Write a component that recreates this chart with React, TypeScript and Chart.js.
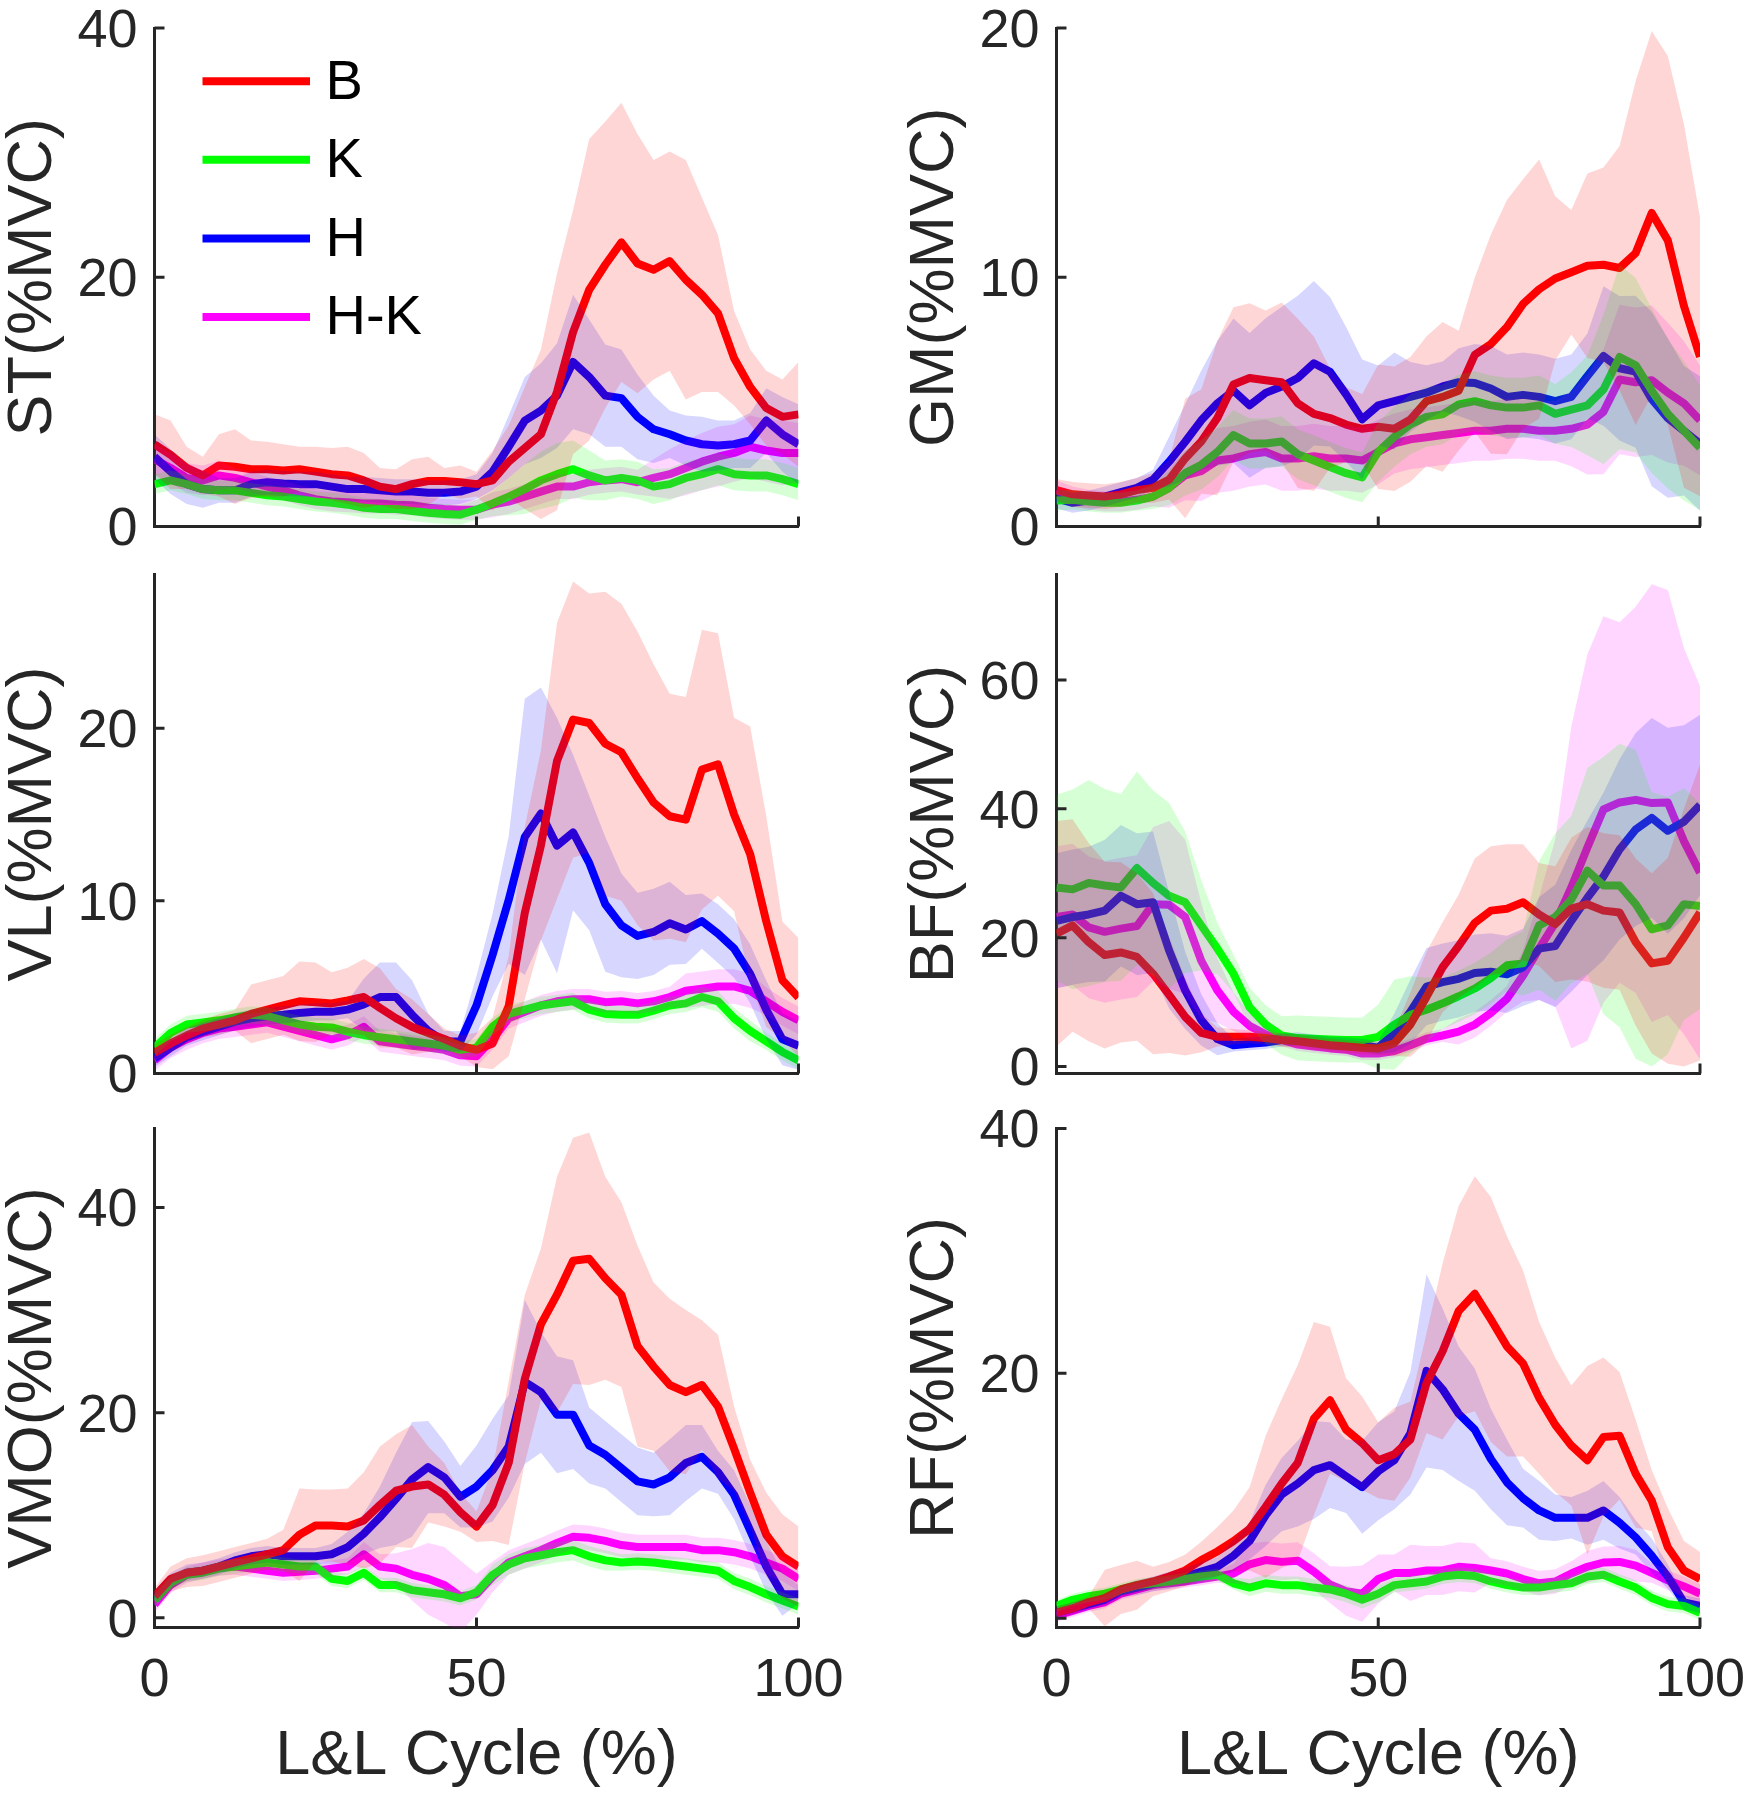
import React, { useEffect, useRef } from "react";
import { Chart, registerables } from "chart.js";

Chart.register(...registerables);

// ---------------- data ----------------
const X = [0,2.5,5,7.5,10,12.5,15,17.5,20,22.5,25,27.5,30,32.5,35,37.5,40,42.5,45,47.5,50,52.5,55,57.5,60,62.5,65,67.5,70,72.5,75,77.5,80,82.5,85,87.5,90,92.5,95,97.5,100];
const X_TICKS = [0, 50, 100];
const SERIES_LABELS = ["B", "K", "H", "H-K"];
const X_TITLE = "L&L Cycle (%)";

// ST
const ST_TICKS = [0, 20, 40];
const ST_B = [6.6,5.75,4.7,4.1,4.9,4.8,4.6,4.6,4.5,4.6,4.4,4.2,4.1,3.7,3.2,3.0,3.4,3.65,3.65,3.55,3.4,3.7,5.2,6.3,7.4,10.8,15.6,19.0,21.0,22.8,21.1,20.6,21.3,19.8,18.6,17.1,13.5,11.2,9.5,8.8,9.0];
const ST_K = [3.4,3.7,3.4,3.0,2.9,2.9,2.7,2.5,2.4,2.2,2.0,1.9,1.75,1.5,1.4,1.4,1.25,1.1,1.0,0.95,1.35,1.85,2.4,3.0,3.7,4.2,4.6,4.1,3.7,3.9,3.7,3.2,3.4,3.9,4.2,4.6,4.2,4.1,4.1,3.8,3.4];
const ST_H = [5.6,4.4,3.4,3.0,2.9,2.9,3.4,3.55,3.45,3.4,3.4,3.2,3.0,3.0,2.9,2.8,2.8,2.7,2.7,2.8,3.2,4.4,6.4,8.5,9.3,10.5,13.2,12.0,10.5,10.3,8.8,7.8,7.4,6.9,6.6,6.5,6.6,6.9,8.5,7.4,6.6];
const ST_HK = [5.4,4.7,3.9,3.7,4.1,3.9,3.55,3.2,2.9,2.5,2.2,2.0,1.95,1.85,1.85,1.75,1.7,1.5,1.4,1.35,1.35,1.75,2.0,2.4,2.8,3.2,3.2,3.55,3.7,3.8,3.55,3.9,4.2,4.7,5.2,5.6,5.9,6.4,6.1,5.9,5.9];
const ST_B_SD = [2.4,2.75,1.7,1.5,2.5,3.0,2.3,2.2,2.1,1.8,2.0,2.1,2.3,2.2,1.5,1.6,2.0,1.95,1.05,1.35,1.0,2.4,2.9,4.9,6.8,9.5,9.8,12.1,11.5,11.2,10.4,8.8,8.8,9.6,7.8,6.3,3.8,3.0,3.0,3.0,4.2];
const ST_K_SD = [0.8,0.8,0.8,0.8,0.8,0.8,0.8,0.8,0.8,0.8,0.8,0.8,0.8,0.8,0.8,0.8,0.8,0.8,0.8,0.8,0.8,1.0,1.5,2.0,2.3,2.5,2.3,2.0,1.6,1.5,1.5,1.4,1.3,1.3,1.3,1.3,1.3,1.3,1.3,1.3,1.3];
const ST_H_SD = [1.8,1.8,1.6,1.5,1.0,1.0,1.0,1.0,1.0,1.0,1.0,1.0,1.0,1.0,1.0,1.0,1.0,1.0,1.0,1.0,1.0,1.5,2.5,3.5,3.8,4.2,5.4,4.6,4.1,3.9,3.4,2.7,1.9,2.0,2.2,2.0,1.9,2.2,2.6,3.0,3.2];
const ST_HK_SD = [1.2,1.2,1.2,1.2,1.2,0.8,0.8,0.8,0.8,0.8,0.8,0.8,0.8,0.8,0.8,0.8,0.8,0.8,0.8,0.8,0.8,1.0,1.0,1.0,1.0,1.0,1.0,1.0,1.0,1.0,1.0,1.5,2.0,2.2,2.3,2.4,2.3,2.5,2.5,2.6,2.4];

// GM
const GM_TICKS = [0, 10, 20];
const GM_B = [1.46,1.29,1.24,1.2,1.29,1.46,1.55,1.88,2.73,3.41,4.35,5.7,5.96,5.87,5.79,4.94,4.52,4.35,4.09,3.92,4.0,3.92,4.3,5.03,5.2,5.45,6.89,7.32,8.0,8.93,9.52,9.95,10.2,10.46,10.5,10.37,10.97,12.58,11.48,8.85,6.81];
const GM_K = [1.04,1.07,1.0,0.95,0.95,1.04,1.2,1.55,2.14,2.48,2.99,3.67,3.33,3.33,3.41,2.9,2.65,2.39,2.14,1.97,3.0,3.6,4.1,4.4,4.5,4.9,5.03,4.86,4.77,4.77,4.86,4.52,4.69,4.86,5.5,6.8,6.47,5.45,4.52,3.84,3.16];
const GM_H = [1.12,0.95,1.04,1.2,1.38,1.55,1.88,2.6,3.4,4.26,4.94,5.45,4.86,5.36,5.62,5.96,6.55,6.21,5.3,4.3,4.86,5.03,5.2,5.37,5.62,5.79,5.76,5.54,5.2,5.28,5.2,5.03,5.2,6.04,6.84,6.35,6.21,5.11,4.35,3.84,3.33];
const GM_HK = [1.46,1.2,1.07,1.0,1.0,1.07,1.2,1.55,2.05,2.22,2.65,2.73,2.9,2.99,2.73,2.73,2.82,2.73,2.73,2.65,2.99,3.33,3.5,3.58,3.67,3.75,3.84,3.84,3.92,3.92,3.84,3.84,3.92,4.09,4.6,5.9,5.79,5.87,5.37,4.94,4.26];
const GM_B_SD = [0.45,0.5,0.5,0.5,0.5,0.5,0.6,0.8,2.4,2.1,3.1,3.1,3.0,2.8,3.2,3.4,3.1,2.0,1.5,1.4,2.5,2.5,2.5,2.6,3.0,2.4,3.1,4.4,5.1,5.0,5.2,3.3,2.5,3.7,3.9,4.9,6.9,7.3,7.4,7.3,5.6];
const GM_K_SD = [0.4,0.4,0.4,0.4,0.4,0.4,0.5,0.7,0.9,1.0,1.0,1.0,1.0,1.0,1.0,1.0,1.0,1.0,1.0,1.0,1.2,1.2,1.2,1.2,1.2,1.2,1.2,1.2,1.2,1.2,1.2,1.2,1.5,2.0,3.0,3.7,3.5,3.3,3.0,2.8,2.5];
const GM_H_SD = [0.4,0.4,0.4,0.4,0.4,0.4,0.4,1.0,1.5,2.0,2.5,2.9,2.9,3.0,3.2,3.3,3.3,3.0,2.7,2.4,1.6,1.95,1.4,1.1,1.0,1.36,1.56,1.7,1.7,1.7,1.7,1.7,1.7,1.7,2.8,2.9,3.05,3.5,3.2,2.6,2.7];
const GM_HK_SD = [0.4,0.4,0.4,0.4,0.4,0.4,0.4,0.8,1.0,1.2,1.3,1.3,1.3,1.3,1.3,1.3,1.3,1.3,1.3,1.3,1.3,1.2,1.2,1.2,1.2,1.2,1.2,1.2,1.2,1.2,1.2,1.2,1.5,2.0,2.5,3.0,3.0,3.0,2.8,2.5,2.2];

// VL
const VL_TICKS = [0, 10, 20];
const VL_B = [1.2,1.74,2.2,2.6,2.84,3.08,3.45,3.7,3.94,4.18,4.13,4.06,4.23,4.43,3.8,3.2,2.7,2.35,2.0,1.6,1.37,1.74,3.9,9.3,13.2,18.1,20.5,20.3,19.1,18.6,17.1,15.7,14.9,14.7,17.6,17.9,15.0,12.7,8.8,5.4,4.4];
const VL_K = [1.5,2.35,2.84,2.96,3.08,3.25,3.4,3.33,3.08,2.84,2.71,2.67,2.42,2.22,2.1,1.98,1.86,1.74,1.61,1.37,1.5,2.71,3.45,3.7,3.94,4.06,4.18,3.7,3.45,3.4,3.4,3.64,3.94,4.06,4.43,4.18,3.2,2.47,1.86,1.25,0.76];
const VL_H = [0.88,1.5,2.1,2.42,2.71,3.0,3.2,3.33,3.4,3.5,3.57,3.57,3.7,4.0,4.43,4.43,3.4,2.47,1.86,1.86,3.94,6.87,10.05,13.7,15.06,13.2,13.96,12.2,9.8,8.58,7.97,8.2,8.7,8.34,8.83,8.1,7.24,5.77,3.69,1.98,1.61];
const VL_HK = [0.76,1.5,1.98,2.35,2.6,2.71,2.84,2.96,2.71,2.47,2.22,1.98,2.22,2.71,1.86,1.74,1.61,1.5,1.37,1.05,1.0,1.98,3.2,3.57,3.94,4.18,4.3,4.3,4.13,4.18,4.06,4.18,4.43,4.79,4.91,5.04,5.04,4.79,4.18,3.57,3.08];
const VL_B_SD = [0.5,0.5,0.5,0.5,0.6,0.6,1.7,1.7,1.7,2.3,2.3,1.8,1.9,2.2,2.3,1.7,1.6,1.1,0.6,0.6,1.0,1.5,2.9,5.0,5.5,8.0,8.0,7.5,8.8,8.6,8.5,8.0,7.1,7.1,8.1,7.6,5.6,7.4,6.1,3.4,3.45];
const VL_K_SD = [0.5,0.5,0.5,0.5,0.5,0.5,0.5,0.5,0.5,0.5,0.5,0.5,0.5,0.5,0.5,0.5,0.5,0.5,0.5,0.5,0.5,0.5,0.5,0.5,0.5,0.5,0.5,0.5,0.5,0.5,0.5,0.5,0.5,0.5,0.6,0.6,0.6,0.6,0.5,0.5,0.5];
const VL_H_SD = [0.5,0.5,0.5,0.5,0.5,0.5,0.5,0.5,0.5,0.5,0.5,0.5,0.5,1.5,2.0,2.0,2.0,1.0,0.6,0.6,1.7,2.4,3.7,8.0,7.3,7.4,4.5,3.9,3.9,3.0,2.5,2.5,2.4,2.0,1.6,1.7,1.7,1.7,1.7,1.5,1.4];
const VL_HK_SD = [0.6,0.6,0.6,0.6,0.6,0.6,0.6,0.6,0.6,0.6,0.6,0.6,0.6,0.6,0.6,0.6,0.6,0.6,0.6,0.6,0.6,0.6,0.6,0.6,0.6,0.6,0.6,0.6,0.6,0.6,0.6,0.6,0.6,1.0,1.0,1.0,1.0,1.0,0.8,0.8,0.8];

// BF
const BF_TICKS = [0, 20, 40, 60];
const BF_B = [20.6,21.9,19.3,17.3,17.7,17.0,14.4,11.1,7.7,5.2,4.6,4.6,4.6,4.4,4.1,3.9,3.6,3.3,3.1,2.9,2.8,3.6,6.5,10.8,15.4,18.7,22.3,24.2,24.5,25.5,23.6,22.1,24.5,25.2,24.2,23.9,19.3,16.0,16.4,20.0,23.9];
const BF_K = [27.8,27.5,28.5,28.1,27.8,30.8,28.5,26.5,25.5,21.9,18.3,14.4,9.2,6.5,4.8,4.4,4.3,4.2,4.1,4.1,4.6,6.5,8.0,8.8,9.8,10.9,12.1,13.7,15.7,16.0,21.9,23.2,25.9,30.4,28.1,28.1,25.2,21.3,21.9,25.2,24.9];
const BF_H = [22.6,23.2,23.6,24.2,26.5,25.2,25.5,18.0,11.8,7.2,4.25,3.3,3.5,3.7,4.1,4.3,3.9,3.6,3.5,3.3,2.9,5.2,8.5,12.4,13.1,13.6,14.5,14.7,14.3,15.4,18.3,18.7,22.6,26.2,29.5,33.7,36.8,38.6,36.6,38.0,40.6];
const BF_HK = [23.2,23.6,21.6,20.9,21.4,21.8,25.2,25.1,23.2,16.4,11.8,8.5,6.3,5.0,4.1,3.4,3.1,2.8,2.6,2.0,2.0,2.4,3.3,4.3,4.8,5.4,6.5,8.3,10.5,14.1,18.3,22.3,27.8,34.0,39.9,41.0,41.4,40.9,41.0,35.0,30.1];
const BF_B_SD = [17.5,16.5,15.4,14.5,14.0,13.0,12.5,9.0,6.0,3.0,1.5,1.2,1.0,1.0,1.0,1.0,1.0,1.0,1.0,1.0,1.0,2.0,5.0,7.0,7.0,8.0,10.0,10.0,10.0,9.0,8.0,9.0,11.0,12.0,12.0,12.0,13.0,14.0,16.0,20.0,23.0];
const BF_K_SD = [14.4,15.5,16.0,15.0,14.5,15.0,14.4,14.4,11.0,7.0,4.0,3.0,3.0,3.0,3.0,3.5,3.5,3.5,3.5,3.5,5.0,7.0,6.0,5.0,4.0,4.0,4.0,4.0,4.0,5.0,10.0,13.0,13.0,16.0,20.0,22.0,24.0,21.3,20.0,18.0,16.0];
const BF_H_SD = [10.5,10.5,10.5,11.0,11.0,11.0,11.0,9.0,6.0,4.0,2.5,1.0,1.0,1.0,1.0,1.0,1.0,1.0,1.0,1.0,1.0,3.0,5.0,6.0,6.0,6.0,6.0,6.0,6.0,6.0,8.0,9.5,11.0,12.0,13.0,14.0,15.0,15.5,16.0,15.0,14.0];
const BF_HK_SD = [11.0,11.0,11.0,11.0,11.0,11.0,12.0,13.0,12.0,9.0,5.0,3.0,2.0,1.0,1.0,1.0,1.0,1.0,1.0,1.0,1.0,1.0,1.0,1.0,1.0,2.0,2.0,2.0,2.0,4.0,8.0,13.0,25.0,30.0,30.0,28.0,30.0,34.0,33.0,30.0,29.0];

// VMO
const VMO_TICKS = [0, 20, 40];
const VMO_B = [2.1,3.8,4.4,4.6,5.0,5.4,5.8,6.2,6.6,8.1,9.0,9.0,8.9,9.5,11.0,12.4,12.8,13.0,12.0,10.3,8.9,11.0,15.1,23.3,28.6,31.5,34.8,35.0,33.1,31.5,26.5,24.5,22.7,22.0,22.7,20.6,16.5,12.2,8.1,6.0,5.0];
const VMO_K = [1.7,3.4,4.2,4.4,4.8,5.0,5.2,5.4,5.2,5.0,5.0,3.8,3.6,4.4,3.2,3.2,2.7,2.5,2.3,1.9,2.5,4.2,5.2,5.8,6.1,6.4,6.6,6.0,5.6,5.4,5.5,5.4,5.2,5.0,4.8,4.6,3.6,3.0,2.3,1.7,1.1];
const VMO_H = [1.9,3.6,4.4,4.6,5.0,5.6,6.0,6.2,6.0,6.0,6.0,6.2,6.9,8.2,9.8,11.6,13.5,14.7,13.7,11.8,12.8,14.4,16.7,23.0,22.0,19.8,19.8,16.8,15.9,14.6,13.3,13.0,13.7,15.1,15.7,14.2,12.0,8.5,5.0,2.3,2.3];
const VMO_HK = [1.3,3.2,4.2,4.6,4.9,5.0,4.8,4.6,4.4,4.5,4.6,4.8,5.0,6.2,5.0,4.8,4.2,3.8,3.2,2.1,2.3,4.0,5.4,6.0,6.6,7.3,7.9,7.8,7.5,7.1,6.9,6.9,6.9,6.9,6.6,6.6,6.4,6.0,5.4,4.8,3.8];
const VMO_B_SD = [0.8,1.2,1.4,1.5,1.5,1.5,1.5,1.5,2.0,4.5,3.5,3.5,3.7,4.7,5.7,5.5,6.0,3.7,3.1,1.9,1.5,3.5,8.0,8.2,7.4,11.5,12.0,12.3,9.9,9.0,9.8,8.2,8.4,8.0,6.3,7.0,4.1,3.2,4.1,4.1,3.9];
const VMO_K_SD = [0.7,0.7,0.7,0.7,0.7,0.7,0.7,0.7,0.7,0.7,0.7,0.7,0.7,0.7,0.7,0.7,0.7,0.7,0.7,0.7,0.7,1.0,1.0,1.0,1.0,1.0,1.0,1.0,1.0,0.8,0.8,0.8,0.8,0.8,0.8,0.8,0.8,0.8,0.8,0.8,0.8];
const VMO_H_SD = [0.8,0.8,0.8,0.8,0.8,0.8,0.8,0.8,0.8,0.8,0.8,1.0,1.5,2.0,3.0,4.5,5.6,4.5,3.5,3.0,4.0,5.0,5.0,8.0,5.9,5.7,5.3,3.7,3.3,3.3,3.3,3.1,3.7,3.7,3.1,2.1,2.4,2.5,2.5,2.1,0.9];
const VMO_HK_SD = [0.8,0.8,0.8,0.8,0.8,0.8,0.8,0.8,0.8,0.8,0.8,0.8,0.8,1.2,1.2,1.5,2.5,3.5,3.7,3.5,2.0,1.5,1.2,1.2,1.2,1.2,1.2,1.2,1.2,1.2,1.2,1.2,1.2,1.2,1.2,1.2,1.2,1.2,1.2,1.2,1.2];

// RF
const RF_TICKS = [0, 20, 40];
const RF_B = [0.45,0.8,1.3,1.65,2.35,2.7,3.0,3.4,3.9,4.75,5.45,6.3,7.3,9.1,11.0,12.7,16.3,17.8,15.4,14.3,12.9,13.4,14.6,19.2,21.8,25.1,26.5,24.4,22.2,20.8,18.0,15.8,14.1,12.9,14.8,14.9,11.8,9.6,5.8,3.9,3.2];
const RF_K = [1.0,1.5,1.8,2.0,2.35,2.7,2.85,3.0,3.2,3.4,3.55,2.85,2.5,2.85,2.7,2.7,2.5,2.35,2.0,1.5,2.0,2.7,2.85,3.0,3.4,3.55,3.45,3.0,2.7,2.5,2.5,2.7,2.85,3.4,3.55,3.0,2.5,1.65,1.15,1.0,0.45];
const RF_H = [0.45,0.8,1.15,1.5,2.2,2.5,2.8,3.1,3.4,3.8,4.2,5.1,6.3,8.4,10.1,11.0,12.1,12.5,11.6,10.7,12.0,12.9,15.1,20.2,18.7,16.7,15.4,13.0,11.1,9.8,8.8,8.2,8.2,8.2,8.8,7.8,6.6,5.1,3.4,1.3,1.0];
const RF_HK = [0.2,0.6,1.0,1.3,2.0,2.35,2.7,2.85,3.0,3.2,3.4,3.65,4.4,4.75,4.6,4.7,3.8,2.75,2.2,2.0,3.2,3.7,3.7,3.9,3.9,4.2,4.1,3.9,3.65,3.2,2.85,3.0,3.65,4.2,4.55,4.6,4.3,3.7,3.1,2.6,2.0];
const RF_B_SD = [0.5,0.5,0.5,2.3,2.0,2.0,1.2,1.2,1.3,1.5,2.0,2.5,3.4,5.8,6.9,8.0,7.9,6.0,4.2,3.8,3.1,3.8,3.1,4.1,7.2,8.6,9.6,10.0,9.0,7.6,6.2,5.5,4.9,7.7,6.5,5.2,4.4,2.5,3.2,2.4,2.2];
const RF_K_SD = [0.5,0.5,0.5,0.5,0.5,0.5,0.5,0.5,0.5,0.5,0.5,0.5,0.7,0.7,0.7,0.7,0.7,0.7,0.7,0.7,0.7,0.6,0.6,0.6,0.6,0.6,0.6,0.6,0.6,0.6,0.6,0.6,0.6,0.6,0.6,0.6,0.6,0.6,0.6,0.6,0.6];
const RF_H_SD = [0.5,0.5,0.5,0.5,0.5,0.6,0.6,0.7,0.7,0.8,0.8,1.3,1.5,2.5,3.0,3.5,4.0,3.5,3.0,3.8,4.0,4.0,5.0,7.9,6.6,5.5,5.0,4.1,3.5,2.4,2.4,1.9,1.7,2.2,2.4,2.1,1.4,1.4,1.0,0.6,0.6];
const RF_HK_SD = [0.5,0.5,0.5,0.5,0.5,0.5,0.5,0.5,0.5,0.5,0.5,0.8,1.7,1.5,1.5,1.5,1.5,1.5,2.0,2.3,2.0,1.5,2.3,2.0,2.0,2.0,2.0,1.0,1.0,1.0,1.0,1.0,1.0,1.3,1.3,1.3,1.3,0.8,0.8,0.8,0.8];

// ---------------- style ----------------
const FONT = '"Liberation Sans", Arial, Helvetica, sans-serif';
const AXIS = "#262626";
const LINE_COLORS = ["#ff0000", "#00ff00", "#0000ff", "#ff00ff"];
const BAND_COLORS = ["rgba(255,0,0,0.16)", "rgba(0,255,0,0.16)", "rgba(0,0,255,0.16)", "rgba(255,0,255,0.16)"];

Chart.defaults.font.family = FONT;

type Panel = {
  yLabel: string;
  means: number[][];
  sds: number[][];
  yMin: number;
  yMax: number;
  yTicks: number[];
  col: number;
  row: number;
  legend: boolean;
};

const PANELS: Panel[] = [
  { yLabel: "ST(%MVC)", means: [ST_B, ST_K, ST_H, ST_HK], sds: [ST_B_SD, ST_K_SD, ST_H_SD, ST_HK_SD], yMin: 0, yMax: 40, yTicks: ST_TICKS, col: 0, row: 0, legend: true },
  { yLabel: "GM(%MVC)", means: [GM_B, GM_K, GM_H, GM_HK], sds: [GM_B_SD, GM_K_SD, GM_H_SD, GM_HK_SD], yMin: 0, yMax: 20, yTicks: GM_TICKS, col: 1, row: 0, legend: false },
  { yLabel: "VL(%MVC)", means: [VL_B, VL_K, VL_H, VL_HK], sds: [VL_B_SD, VL_K_SD, VL_H_SD, VL_HK_SD], yMin: 0, yMax: 28.9, yTicks: VL_TICKS, col: 0, row: 1, legend: false },
  { yLabel: "BF(%MVC)", means: [BF_B, BF_K, BF_H, BF_HK], sds: [BF_B_SD, BF_K_SD, BF_H_SD, BF_HK_SD], yMin: -1.1, yMax: 76.4, yTicks: BF_TICKS, col: 1, row: 1, legend: false },
  { yLabel: "VMO(%MVC)", means: [VMO_B, VMO_K, VMO_H, VMO_HK], sds: [VMO_B_SD, VMO_K_SD, VMO_H_SD, VMO_HK_SD], yMin: -0.94, yMax: 47.7, yTicks: VMO_TICKS, col: 0, row: 2, legend: false },
  { yLabel: "RF(%MVC)", means: [RF_B, RF_K, RF_H, RF_HK], sds: [RF_B_SD, RF_K_SD, RF_H_SD, RF_HK_SD], yMin: -0.76, yMax: 40, yTicks: RF_TICKS, col: 1, row: 2, legend: false },
];

// layout geometry (page pixels)
const COLS = [
  { left: 2, width: 875, padRight: 78.5 },
  { left: 904, width: 850, padRight: 54 },
];
const ROWS = [
  { top: -32, height: 600, padTop: 60, padBottom: 0, xh: 41.5, showX: false },
  { top: 514, height: 600, padTop: 60.5, padBottom: 0, xh: 40.5, showX: false },
  { top: 1068, height: 732, padTop: 60.5, padBottom: 11.5, xh: 161, showX: true },
];
const Y_AXIS_W = 152.5;
const TICK_FONT = 54;
const TITLE_FONT = 63;

function buildDatasets(means: number[][], sds: number[][]) {
  const ds: any[] = [];
  means.forEach((m, i) => {
    ds.push({
      label: SERIES_LABELS[i],
      data: X.map((x, j) => ({ x, y: m[j] })),
      borderColor: LINE_COLORS[i],
      backgroundColor: LINE_COLORS[i],
      borderWidth: 8,
      borderJoinStyle: "round",
      pointRadius: 0,
      pointHoverRadius: 0,
      fill: false,
      tension: 0,
      order: 2,
      isMean: true,
    });
  });
  means.forEach((m, i) => {
    const sd = sds[i];
    ds.push({
      label: SERIES_LABELS[i] + " upper",
      data: X.map((x, j) => ({ x, y: m[j] + sd[j] })),
      borderColor: "rgba(0,0,0,0)",
      borderWidth: 1,
      backgroundColor: BAND_COLORS[i],
      pointRadius: 0,
      pointHoverRadius: 0,
      fill: "+1",
      tension: 0,
      order: 1,
    });
    ds.push({
      label: SERIES_LABELS[i] + " lower",
      data: X.map((x, j) => ({ x, y: m[j] - sd[j] })),
      borderColor: "rgba(0,0,0,0)",
      borderWidth: 1,
      backgroundColor: "rgba(0,0,0,0)",
      pointRadius: 0,
      pointHoverRadius: 0,
      fill: false,
      tension: 0,
      order: 1,
    });
  });
  return ds;
}

const inwardTicks = {
  id: "inwardTicks",
  afterDatasetsDraw(chart: any) {
    const { ctx, chartArea, scales } = chart;
    ctx.save();
    ctx.strokeStyle = AXIS;
    ctx.lineWidth = 3;
    ctx.lineCap = "butt";
    ctx.beginPath();
    scales.y.ticks.forEach((t: any) => {
      const p = scales.y.getPixelForValue(t.value);
      ctx.moveTo(chartArea.left, p);
      ctx.lineTo(chartArea.left + 10, p);
    });
    scales.x.ticks.forEach((t: any) => {
      const p = scales.x.getPixelForValue(t.value);
      ctx.moveTo(p, chartArea.bottom);
      ctx.lineTo(p, chartArea.bottom - 10);
    });
    ctx.stroke();
    ctx.restore();
  },
};

function makeLegendPlugin(show: boolean) {
  return {
    id: "insideLegend",
    afterDatasetsDraw(chart: any) {
      if (!show) return;
      const { ctx, chartArea } = chart;
      const items = chart.data.datasets.filter((d: any) => d.isMean);
      ctx.save();
      items.forEach((d: any, i: number) => {
        const y = chartArea.top + 53.2 + i * 78.6;
        ctx.strokeStyle = d.borderColor;
        ctx.lineWidth = 8;
        ctx.lineCap = "butt";
        ctx.beginPath();
        ctx.moveTo(chartArea.left + 48, y);
        ctx.lineTo(chartArea.left + 155.5, y);
        ctx.stroke();
        ctx.fillStyle = "#000000";
        ctx.font = `56px ${FONT}`;
        ctx.textBaseline = "middle";
        ctx.textAlign = "left";
        ctx.fillText(d.label, chartArea.left + 171, y + 2);
      });
      ctx.restore();
    },
  };
}

function PanelChart({ p }: { p: Panel }) {
  const ref = useRef<HTMLCanvasElement | null>(null);
  const col = COLS[p.col];
  const row = ROWS[p.row];
  useEffect(() => {
    if (!ref.current) return;
    const chart = new Chart(ref.current, {
      type: "line",
      data: { datasets: buildDatasets(p.means, p.sds) },
      options: {
        animation: false,
        responsive: false,
        devicePixelRatio: 1,
        events: [],
        layout: { padding: { left: 0, right: col.padRight, top: row.padTop, bottom: row.padBottom } },
        plugins: {
          legend: { display: false },
          tooltip: { enabled: false },
        },
        scales: {
          x: {
            type: "linear",
            min: 0,
            max: 100,
            afterBuildTicks: (s: any) => {
              s.ticks = X_TICKS.map((v) => ({ value: v }));
            },
            afterFit: (s: any) => {
              s.height = row.xh;
              s.paddingLeft = 0;
              s.paddingRight = 0;
              s.paddingTop = 0;
              s.paddingBottom = 0;
            },
            grid: { display: false, drawTicks: false },
            border: { display: true, color: AXIS, width: 3 },
            ticks: {
              display: row.showX,
              color: AXIS,
              font: { family: FONT, size: TICK_FONT },
              padding: 21,
              maxRotation: 0,
              minRotation: 0,
              autoSkip: false,
            },
            title: {
              display: row.showX,
              text: X_TITLE,
              color: AXIS,
              font: { family: FONT, size: TITLE_FONT, lineHeight: 1 },
              padding: 0,
            },
          },
          y: {
            type: "linear",
            min: p.yMin,
            max: p.yMax,
            afterBuildTicks: (s: any) => {
              s.ticks = p.yTicks.map((v) => ({ value: v }));
            },
            afterFit: (s: any) => {
              s.width = Y_AXIS_W;
              s.paddingLeft = 0;
              s.paddingRight = 0;
              s.paddingTop = 0;
              s.paddingBottom = 0;
            },
            grid: { display: false, drawTicks: false },
            border: { display: true, color: AXIS, width: 3 },
            ticks: {
              color: AXIS,
              font: { family: FONT, size: TICK_FONT },
              padding: 17,
              labelOffset: 4,
              autoSkip: false,
            },
            title: {
              display: true,
              text: p.yLabel,
              color: AXIS,
              font: { family: FONT, size: TITLE_FONT, lineHeight: 1 },
              padding: 0,
            },
          },
        },
      } as any,
      plugins: [inwardTicks, makeLegendPlugin(p.legend)],
    });
    return () => chart.destroy();
  }, []);
  return (
    <canvas
      ref={ref}
      width={col.width}
      height={row.height}
      style={{ position: "absolute", left: col.left, top: row.top, width: col.width, height: row.height }}
    />
  );
}

export default function App() {
  return (
    <div
      style={{
        position: "absolute",
        left: 0,
        top: 0,
        width: 1754,
        height: 1800,
        background: "#ffffff",
        overflow: "hidden",
      }}
    >
      {PANELS.map((p, i) => (
        <PanelChart key={i} p={p} />
      ))}
    </div>
  );
}
